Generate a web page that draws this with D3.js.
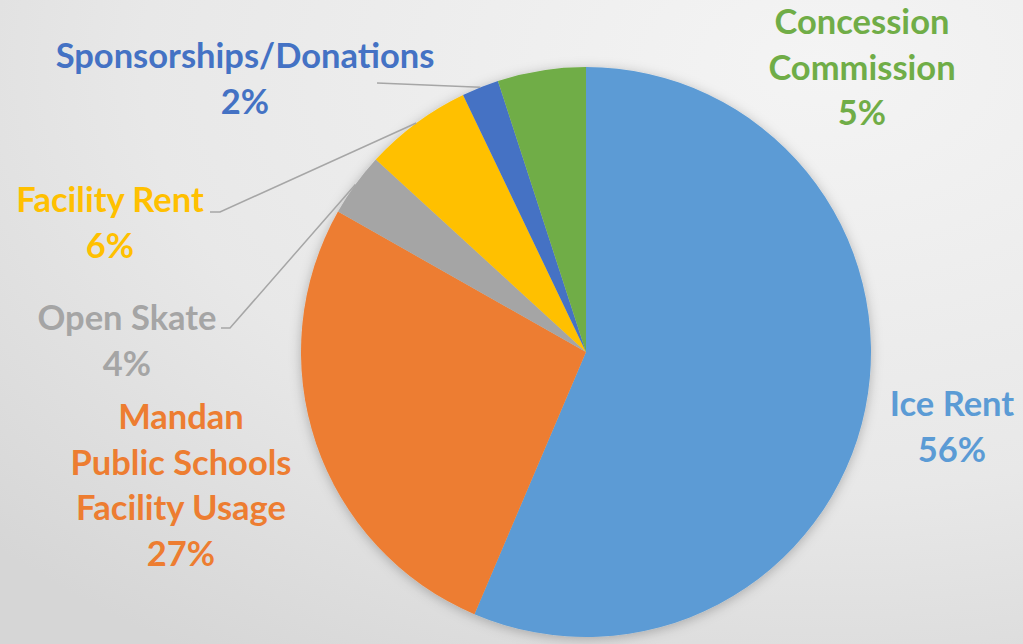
<!DOCTYPE html>
<html>
<head>
<meta charset="utf-8">
<script src="https://cdn.jsdelivr.net/npm/d3@7"></script>
<style>
  html, body { margin: 0; padding: 0; overflow: hidden; }
  svg { display: block; }
</style>
</head>
<body>
<script>
// slice data, clockwise from 12 o'clock
var categories = ["Ice Rent", "Mandan Public Schools Facility Usage", "Open Skate", "Facility Rent", "Sponsorships/Donations", "Concession Commission"];
var values = [56.4, 26.8, 3.6, 6.1, 2.1, 5.0];
var percentLabels = ["56%", "27%", "4%", "6%", "2%", "5%"];
var colors = ["#5B9BD5", "#ED7D31", "#A5A5A5", "#FFC000", "#4472C4", "#70AD47"];

var width = 1023, height = 644;
var cx = 586, cy = 352, radius = 285;

// label layout: text lines, centre x, first baseline, leader elbow (or null)
var labelLayout = [
    { lines: ["Ice Rent"], x: 952, y: 416, elbow: null },
    { lines: ["Mandan", "Public Schools", "Facility Usage"], x: 181, y: 429, elbow: null },
    { lines: ["Open Skate"], x: 127, y: 330, elbow: [[221, 328], [230, 328]] },
    { lines: ["Facility Rent"], x: 110, y: 212, elbow: [[210, 212], [220, 212]] },
    { lines: ["Sponsorships/Donations"], x: 245, y: 68, elbow: [[377, 83], [377, 83]] },
    { lines: ["Concession", "Commission"], x: 862, y: 34, elbow: null }
];
var lineStep = 45.5;

var svg = d3.select("body").append("svg")
    .attr("width", width)
    .attr("height", height);

var defs = svg.append("defs");

//background gradient
var grad = defs.append("radialGradient")
    .attr("id", "bg")
    .attr("cx", "0.8").attr("cy", "0.1").attr("r", "1.1");
grad.append("stop").attr("offset", "0").attr("stop-color", "#f4f4f4");
grad.append("stop").attr("offset", "0.6").attr("stop-color", "#e8e8e8");
grad.append("stop").attr("offset", "1").attr("stop-color", "#d6d6d6");

var shadow = defs.append("filter")
    .attr("id", "shadow")
    .attr("x", "-20%").attr("y", "-20%").attr("width", "140%").attr("height", "140%");
shadow.append("feDropShadow")
    .attr("dx", 0).attr("dy", 2)
    .attr("stdDeviation", 6)
    .attr("flood-color", "#000")
    .attr("flood-opacity", 0.25);

svg.append("rect")
    .attr("width", width)
    .attr("height", height)
    .attr("fill", "url(#bg)");

var data = categories.map(function (c, i) {
    return { name: c, value: values[i], pct: percentLabels[i], color: colors[i], layout: labelLayout[i] };
});

var pie = d3.pie()
    .sort(null)
    .value(function (d) { return d.value; });

var arc = d3.arc()
    .innerRadius(0)
    .outerRadius(radius);

var arcs = pie(data);

var g = svg.append("g")
    .attr("transform", "translate(" + cx + "," + cy + ")");

g.append("g")
    .attr("filter", "url(#shadow)")
    .selectAll("path")
    .data(arcs)
    .enter().append("path")
    .attr("d", arc)
    .attr("fill", function (d) { return d.data.color; });

// leader lines go from label elbow to the middle of the slice's outer edge
function edgePoint(d) {
    var a = (d.startAngle + d.endAngle) / 2;
    return [cx + radius * Math.sin(a), cy - radius * Math.cos(a)];
}

svg.selectAll(".leader")
    .data(arcs.filter(function (d) { return d.data.layout.elbow; }))
    .enter().append("polyline")
    .attr("class", "leader")
    .attr("fill", "none")
    .attr("stroke", "#a6a6a6")
    .attr("stroke-width", 1.5)
    .attr("points", function (d) {
        var pts = d.data.layout.elbow.concat([edgePoint(d)]);
        return pts.map(function (p) { return p.join(","); }).join(" ");
    });

// labels
var labels = svg.selectAll(".label")
    .data(arcs)
    .enter().append("text")
    .attr("class", "label")
    .attr("text-anchor", "middle")
    .attr("fill", function (d) { return d.data.color; })
    .style("font-family", "Lato, 'Open Sans', sans-serif")
    .style("font-weight", "bold")
    .style("font-size", "34.5px");

labels.each(function (d) {
    var t = d3.select(this);
    var lay = d.data.layout;
    var lines = lay.lines.concat([d.data.pct]);
    lines.forEach(function (s, i) {
        t.append("tspan")
            .attr("x", lay.x)
            .attr("y", lay.y + i * lineStep)
            .text(s);
    });
});
</script>
</body>
</html>
